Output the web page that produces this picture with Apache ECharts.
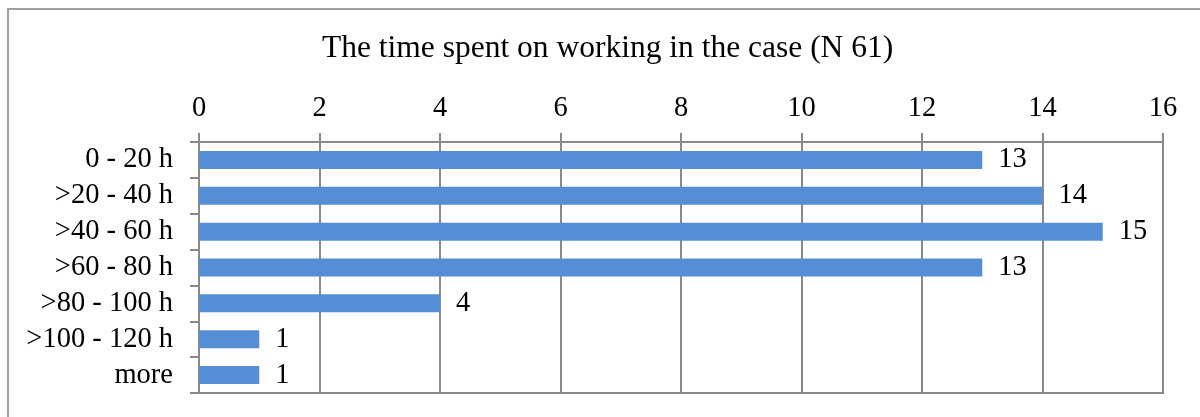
<!DOCTYPE html>
<html>
<head>
<meta charset="utf-8">
<script src="https://cdn.jsdelivr.net/npm/echarts@6/dist/echarts.min.js"></script>
<style>html,body{margin:0;padding:0;background:#fff;}#c{width:1200px;height:417px;}</style>
</head>
<body>
<div id="c"></div>
<script>
const titleText = 'The time spent on working in the case (N 61)';
const categories = ['0 - 20 h', '>20 - 40 h', '>40 - 60 h', '>60 - 80 h', '>80 - 100 h', '>100 - 120 h', 'more'];
const values = [13, 14, 15, 13, 4, 1, 1];
const xMin = 0, xMax = 16, xStep = 2;

const FONT = '"Liberation Serif", "Times New Roman", serif';
const GRID = '#898989';
const LBL = 28.5;
const chart = echarts.init(document.getElementById('c'), null, {renderer: 'canvas'});
chart.setOption({
  animation: false,
  backgroundColor: '#fff',
  title: {
    text: titleText,
    left: 322,
    top: 33,
    padding: 0,
    textStyle: {fontFamily: FONT, fontSize: 31.5, fontWeight: 'normal', color: '#000'}
  },
  graphic: [{
    type: 'polyline', shape: {points: [[8, 600], [8, 9], [1400, 9]]},
    style: {fill: null, stroke: '#a0a0a0', lineWidth: 2}, silent: true
  }],
  grid: {left: 199, right: 37, top: 142, bottom: 24, show: true, borderColor: GRID, borderWidth: 2, containLabel: false},
  xAxis: {
    type: 'value', position: 'top', min: xMin, max: xMax, interval: xStep,
    axisLine: {show: true, lineStyle: {color: GRID, width: 2}},
    axisTick: {show: true, length: 9, lineStyle: {color: GRID, width: 2}},
    splitLine: {show: true, lineStyle: {color: GRID, width: 2}},
    axisLabel: {fontFamily: FONT, fontSize: LBL, color: '#000', margin: 19}
  },
  yAxis: {
    type: 'category', data: categories, inverse: true,
    axisLine: {show: true, lineStyle: {color: GRID, width: 2}},
    axisTick: {show: true, length: 9, lineStyle: {color: GRID, width: 2}},
    axisLabel: {fontFamily: FONT, fontSize: LBL, color: '#000', margin: 26, interval: 0, hideOverlap: false}
  },
  series: [{
    type: 'bar', data: values, barWidth: 18,
    itemStyle: {color: '#558ED5'},
    label: {show: true, position: 'right', distance: 16, fontFamily: FONT, fontSize: LBL, color: '#000'}
  }]
});
</script>
</body>
</html>
